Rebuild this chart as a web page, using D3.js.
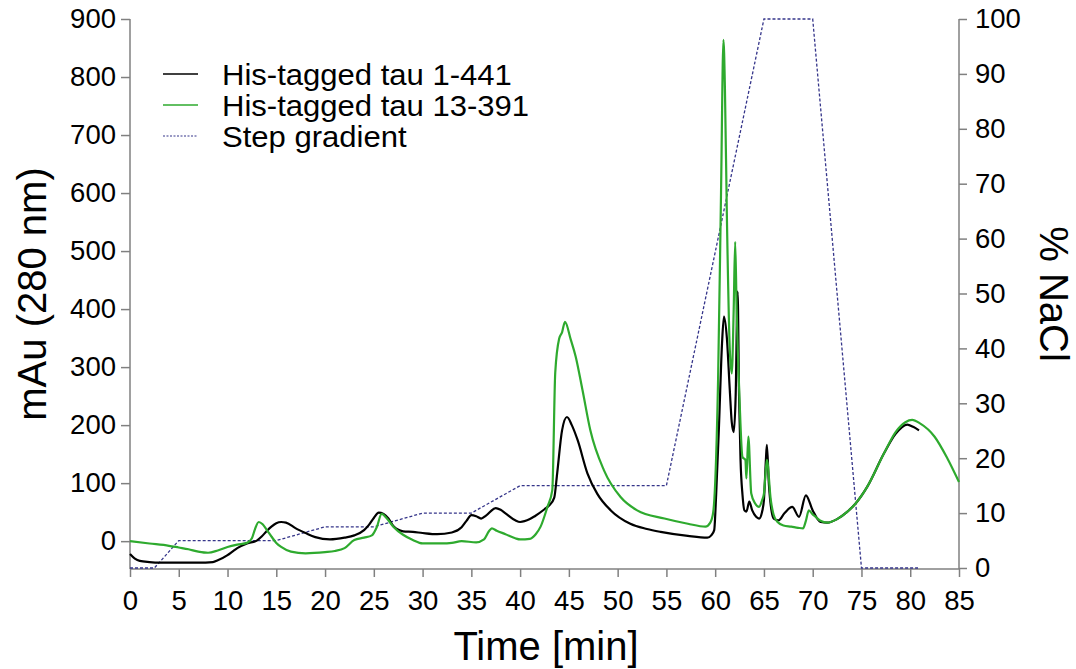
<!DOCTYPE html>
<html>
<head>
<meta charset="utf-8">
<script src="https://cdn.jsdelivr.net/npm/d3@7"></script>
<style>
  html, body { margin: 0; padding: 0; background: #fff; }
  svg text { font-family: "Liberation Sans", Arial, sans-serif; fill: #000; }
</style>
</head>
<body>
<svg id="chart" width="1076" height="669"></svg>
<script>
// ---- Data (time in min, absorbance in mAu, gradient in % NaCl) ----
const tau441Time = [0,0.5,1,2,3,5,7,8.5,9,10,10.5,11,12,13,13.5,14,14.5,15,15.5,16,17,18,19,20.5,22,23,24,24.5,25,25.5,26,26.5,27,28,29,30,31.5,33,34,34.5,35,35.5,36,36.5,37.5,38,38.5,39.5,40,41,41.5,42.5,43,43.5,43.8,44.3,44.8,45.3,45.9,46.9,47.9,49.3,51.3,53,54.4,57.2,59.2,59.6,59.9,60.1,60.4,60.7,60.9,61.2,61.5,61.7,61.9,62.1,62.3,62.45,62.6,62.8,63.0,63.2,63.5,63.8,64.2,64.5,64.8,65.0,65.2,65.3,65.5,65.8,66.0,66.5,67.1,67.9,68.6,69.3,70.0,70.8,71.5,72.5,73.5,74.4,75.6,77.3,78.5,79.7,80.3,80.9];
const tau441Mau  = [-22,-30,-34,-36,-37,-37,-37,-36,-33,-24,-18,-12,-4,1,8,17,25,31,33,32,22,14,7,3,6,10,19,28,40,49,47,39,26,17,16,14,12,15,24,35,45,43,39,44,57,54,48,36,33,38,43,55,62,75,117,191,214,200,174,117,82,53,30,21,16,9,6,10,19,80,203,340,387,350,260,205,188,250,430,250,140,80,53,51,68,53,42,39,50,71,140,166,100,50,39,36,48,59,42,79,53,33,32,38,50,65,94,151,185,201,197,191];

const tau391Time = [0,2,4,5,6,7,8,9,10,11,12,12.5,12.8,13.2,13.6,14,14.5,15,15.5,16.5,18,20,21,22,23,24,24.8,25.3,25.8,26.3,27,28,29,30,32,33,34,35.5,36.3,36.8,37.1,37.6,38.5,39.5,40,41,41.6,42.1,42.8,43.3,43.6,44.0,44.3,44.6,45.2,45.7,46.4,47.2,48.6,50.3,52.0,54.8,57.2,59.0,59.5,59.8,60.0,60.3,60.6,60.85,61.0,61.2,61.5,61.7,61.9,62.05,62.2,62.5,62.8,63.1,63.2,63.4,63.7,64.1,64.5,64.8,65.0,65.3,65.7,66.0,66.4,67.0,67.8,68.5,69.0,69.3,69.6,70.0,70.3,70.8,71.5,72.5,73.5,74.4,75.6,77.3,78.5,79.5,80.2,81,82.5,83.8,85];
const tau391Mau  = [0,-4,-8,-11,-14,-18,-20,-16,-10,-6,-3,5,20,33,29,20,8,-3,-10,-18,-21,-19,-17,-12,2,6,10,24,47,40,25,11,2,-4,-4,-3,0,-2,3,17,22,18,12,5,3,4,12,25,59,88,290,349,360,378,347,318,260,191,122,76,53,39,30,25,32,50,100,280,600,864,780,560,330,289,400,516,400,243,145,140,108,180,82,65,59,70,82,140,71,45,33,27,25,23,22,35,53,46,42,35,32,38,50,65,94,151,188,205,209,203,180,143,102];

const gradTime = [0,2.5,5,15,20,25,30,35,40,55,65,70,75,80.8];
const gradNaCl = [0,0,5,5,7.5,7.5,10,10,15,15,100,100,0,0];

const xTicks = [0,5,10,15,20,25,30,35,40,45,50,55,60,65,70,75,80,85];
const yLeftTicks = [0,100,200,300,400,500,600,700,800,900];
const yRightTicks = [0,10,20,30,40,50,60,70,80,90,100];

const seriesNames = ["His-tagged tau 1-441", "His-tagged tau 13-391", "Step gradient"];
const seriesColors = ["#000000", "#2eaa2e", "#35358a"];

// ---- Layout ----
const svg = d3.select("#chart");
const L = 130, R = 959, T = 19, B = 569;

const x = d3.scaleLinear().domain([0, 85]).range([L, R]);
const yL = d3.scaleLinear().domain([-48, 900]).range([B, T]);
const yR = d3.scaleLinear().domain([0, 100]).range([B - 1, T]);

const axisColor = "#808080";

// axes
const gx = svg.append("g").attr("transform", `translate(0,${B})`)
  .call(d3.axisBottom(x).tickValues(xTicks).tickSize(8).tickPadding(13).tickFormat(d3.format("d")));
const gl = svg.append("g").attr("transform", `translate(${L},0)`)
  .call(d3.axisLeft(yL).tickValues(yLeftTicks).tickSize(9).tickPadding(5).tickFormat(d3.format("d")));
const gr = svg.append("g").attr("transform", `translate(${R},0)`)
  .call(d3.axisRight(yR).tickValues(yRightTicks).tickSize(8).tickPadding(8).tickFormat(d3.format("d")));

[gx, gl, gr].forEach(g => {
  g.select(".domain").attr("stroke", axisColor).attr("stroke-width", 1.5);
  g.selectAll(".tick line").attr("stroke", axisColor).attr("stroke-width", 1.5);
  g.selectAll(".tick text").attr("font-size", 27.5).attr("fill", "#000")
    .style("font-family", "'Liberation Sans', Arial, sans-serif");
});
// domains as plain lines (no outer ticks)
gl.select(".domain").attr("d", `M0,${B}V${T}`);
gr.select(".domain").attr("d", `M0,${B}V${T}`);
gx.select(".domain").attr("d", `M${L},0H${R}`);

// lines
const lineL = d3.line().x(d => x(d[0])).y(d => yL(d[1])).curve(d3.curveMonotoneX);
const lineR = d3.line().x(d => x(d[0])).y(d => yR(d[1]));

const gradData = d3.zip(gradTime, gradNaCl);
const d441 = d3.zip(tau441Time, tau441Mau);
const d391 = d3.zip(tau391Time, tau391Mau);

svg.append("path").datum(gradData).attr("d", lineR)
  .attr("fill", "none").attr("stroke", seriesColors[2]).attr("stroke-width", 1.3)
  .attr("stroke-dasharray", "3,2");

svg.append("path").datum(d441).attr("d", lineL)
  .attr("fill", "none").attr("stroke", seriesColors[0]).attr("stroke-width", 2.2)
  .attr("stroke-linejoin", "round");

svg.append("path").datum(d391).attr("d", lineL)
  .attr("fill", "none").attr("stroke", seriesColors[1]).attr("stroke-width", 2.2)
  .attr("stroke-linejoin", "round");

// legend
const legend = svg.append("g");
const legBase = [85, 116, 147];
seriesNames.forEach((name, i) => {
  const ly = legBase[i] - 11;
  const ln = legend.append("line")
    .attr("x1", 163).attr("x2", 198).attr("y1", ly).attr("y2", ly)
    .attr("stroke", seriesColors[i]).attr("stroke-width", i === 2 ? 1.2 : 1.6);
  if (i === 2) ln.attr("stroke-dasharray", "2,1.5");
  const t = legend.append("text").attr("x", 222).attr("y", legBase[i])
    .attr("font-size", 29).text(name);
  const w = t.node().getComputedTextLength();
  t.attr("textLength", w * 1.07).attr("lengthAdjust", "spacingAndGlyphs");
});

// axis titles
svg.append("text").attr("x", 546).attr("y", 660).attr("text-anchor", "middle")
  .attr("font-size", 40).text("Time [min]");

svg.append("text").attr("transform", `translate(46,${(T + B) / 2}) rotate(-90)`)
  .attr("text-anchor", "middle").attr("font-size", 40).text("mAu (280 nm)");

svg.append("text").attr("transform", `translate(1040,${(T + B) / 2}) rotate(90)`)
  .attr("text-anchor", "middle").attr("font-size", 40).text("% NaCl");
</script>
</body>
</html>
